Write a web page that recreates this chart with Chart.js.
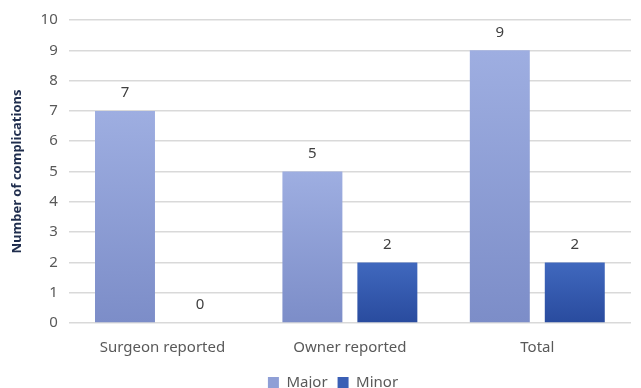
<!DOCTYPE html>
<html>
<head>
<meta charset="utf-8">
<script src="https://cdn.jsdelivr.net/npm/chart.js@4"></script>
<style>
  html, body { margin: 0; padding: 0; background: #fff; }
  #wrap { width: 641px; height: 388px; }
</style>
</head>
<body>
<div id="wrap"><canvas id="complicationsChart"></canvas></div>
<script>
const categories = ['Surgeon reported', 'Owner reported', 'Total'];
const majorCounts = [7, 5, 9];
const minorCounts = [0, 2, 2];
const yTicks = [0, 1, 2, 3, 4, 5, 6, 7, 8, 9, 10];

const FONT = "'Noto Sans', sans-serif";

// vertical gradient running over each bar's own height
function barGradient(top, bottom) {
  return function (ctx) {
    const chart = ctx.chart;
    const y = chart.scales && chart.scales.y;
    if (!chart.chartArea || !y || ctx.type !== 'data') return bottom;
    const yTop = y.getPixelForValue(ctx.raw);
    const yBase = y.getPixelForValue(0);
    if (yBase - yTop < 1) return bottom;
    const g = chart.ctx.createLinearGradient(0, yTop, 0, yBase);
    g.addColorStop(0, top);
    g.addColorStop(1, bottom);
    return g;
  };
}

// numbers above each bar
const valueLabels = {
  id: 'valueLabels',
  afterDatasetsDraw(chart) {
    const ctx = chart.ctx;
    ctx.save();
    ctx.font = '15px ' + FONT;
    ctx.fillStyle = '#404040';
    ctx.textAlign = 'center';
    ctx.textBaseline = 'middle';
    chart.data.datasets.forEach(function (ds, i) {
      chart.getDatasetMeta(i).data.forEach(function (bar, j) {
        ctx.fillText(ds.data[j], bar.x, bar.y - 18);
      });
    });
    ctx.restore();
  }
};

// legend sits a little right of the canvas centre, under the plot area
const legendShift = {
  id: 'legendShift',
  afterLayout(chart) {
    if (chart.legend) {
      chart.legend.left += 13;
      chart.legend.right += 13;
    }
  }
};

new Chart(document.getElementById('complicationsChart'), {
  type: 'bar',
  data: {
    labels: categories,
    datasets: [{
      label: 'Major',
      data: majorCounts,
      backgroundColor: barGradient('#9eaee1', '#7c8dc8')
    },
    {
      label: 'Minor',
      data: minorCounts,
      backgroundColor: barGradient('#4068be', '#294b9e')
    }]
  },
  options: {
    responsive: true,
    maintainAspectRatio: false,
    animation: false,
    barPercentage: 0.8,
    categoryPercentage: 0.8,
    layout: { padding: { top: 0, right: 10, left: 9, bottom: -12 } },
    plugins: {
      tooltip: { enabled: false },
      legend: {
        position: 'bottom',
        labels: {
          color: '#595959',
          font: { family: FONT, size: 15 },
          boxWidth: 11,
          boxHeight: 11,
          padding: 10,
          generateLabels: function (chart) {
            const fills = ['#8f9fd6', '#3a5fb5'];
            return chart.data.datasets.map(function (ds, i) {
              return {
                text: ds.label,
                fillStyle: fills[i],
                strokeStyle: fills[i],
                lineWidth: 0,
                fontColor: '#595959',
                datasetIndex: i
              };
            });
          }
        }
      }
    },
    scales: {
      x: {
        grid: { display: false },
        border: { display: false },
        ticks: { color: '#595959', font: { family: FONT, size: 15 }, padding: 8, maxRotation: 0, autoSkip: false }
      },
      y: {
        min: 0,
        max: 10,
        afterBuildTicks: function (axis) {
          axis.ticks = yTicks.map(function (v) { return { value: v }; });
        },
        grid: { color: '#d9d9d9', lineWidth: 1.5, drawTicks: false },
        border: { display: false },
        ticks: { color: '#595959', font: { family: FONT, size: 15 }, padding: 11 },
        title: {
          display: true,
          text: 'Number of complications',
          color: '#1f2d4d',
          font: { family: FONT, size: 13, weight: 'bold' },
          padding: { top: 0, bottom: 5 }
        }
      }
    }
  },
  plugins: [valueLabels, legendShift]
});
</script>
</body>
</html>
